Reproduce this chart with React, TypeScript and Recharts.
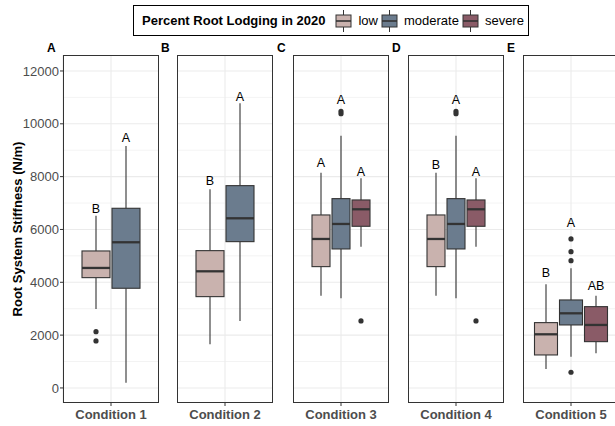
import React from 'react';
import { BarChart, Bar, XAxis, YAxis, CartesianGrid } from 'recharts';

// Facets (one chart per condition)
const conditions = ['Condition 1', 'Condition 2', 'Condition 3', 'Condition 4', 'Condition 5'];
const panelTags = ['A', 'B', 'C', 'D', 'E'];
const levels = ['low', 'moderate', 'severe'];
const levelColors: Record<string, string> = { low: '#c9b2ae', moderate: '#6b7c8e', severe: '#8a5b67' };

// Box stats per condition: [lower whisker, q1, median, q3, upper whisker]
const lowBoxes = [
  [2990, 4176, 4543, 5186, 6522],
  [1653, 3457, 4416, 5198, 7521],
  [3495, 4593, 5640, 6549, 8151],
  [3495, 4593, 5640, 6549, 8151],
  [719, 1249, 2031, 2473, 3924],
];
const moderateBoxes = [
  [201, 3774, 5515, 6802, 9161],
  [2536, 5539, 6423, 7659, 10777],
  [3394, 5262, 6208, 7167, 9552],
  [3394, 5262, 6208, 7167, 9552],
  [1185, 2385, 2826, 3331, 4530],
];
const severeBoxes = [
  null,
  null,
  [5349, 6120, 6764, 7117, 7940],
  [5349, 6120, 6764, 7117, 7940],
  [1313, 1753, 2385, 3078, 3494],
];

const lowOutliers = [[2131, 1779], [], [], [], []];
const moderateOutliers = [[], [], [10380, 10470], [10380, 10470], [5640, 5160, 4819, 594]];
const severeOutliers = [[], [], [2536], [2536], []];

// Tukey group letters and the value they sit at
const lowLetters = ['B', 'B', 'A', 'B', 'B'];
const lowLetterY = [6776, 7847, 8500, 8450, 4342];
const moderateLetters = ['A', 'A', 'A', 'A', 'A'];
const moderateLetterY = [9475, 11004, 10900, 10900, 6257];
const severeLetters = [null, null, 'A', 'A', 'AB'];
const severeLetterY = [null, null, 8188, 8188, 3861];

const yTicks = [0, 2000, 4000, 6000, 8000, 10000, 12000];
const yMinor = [1000, 3000, 5000, 7000, 9000, 11000];
const yDomain = [-570, 12605];

const boxes: Record<string, (number[] | null)[]> = { low: lowBoxes, moderate: moderateBoxes, severe: severeBoxes };
const outliers: Record<string, number[][]> = { low: lowOutliers, moderate: moderateOutliers, severe: severeOutliers };
const letters: Record<string, (string | null)[]> = { low: lowLetters, moderate: moderateLetters, severe: severeLetters };
const letterY: Record<string, (number | null)[]> = { low: lowLetterY, moderate: moderateLetterY, severe: severeLetterY };

const FONT = '"Liberation Sans", Arial, Helvetica, sans-serif';
const INK = '#333333';

const PANEL_LEFT = [63, 177, 293, 408, 523];
const PANEL_W = 96;
const PANEL_TOP = 55;
const PANEL_H = 348;
const XAXIS_H = 24;
const YAXIS_W = 63;

function buildRow(i: number) {
  const row: any = { cond: conditions[i] };
  levels.forEach((lv) => {
    const b = boxes[lv][i];
    if (!b) return;
    row[lv + 'Range'] = [b[1], b[3]];
    row[lv] = { box: b, outliers: outliers[lv][i], letter: letters[lv][i], letterY: letterY[lv][i] };
  });
  return row;
}

const BoxShape = (props: any) => {
  const { x, y, width, height, payload, level } = props;
  const s = payload && payload[level];
  if (!s) return null;
  const [lo, q1, med, q3, hi] = s.box;
  const top = Math.min(y, y + height);
  const h = Math.abs(height);
  const k = h / (q3 - q1);
  const py = (v: number) => top + (q3 - v) * k;
  const cx = x + width / 2;
  return (
    <g>
      <line x1={cx} x2={cx} y1={py(hi)} y2={top} stroke={INK} strokeWidth={1.1} />
      <line x1={cx} x2={cx} y1={top + h} y2={py(lo)} stroke={INK} strokeWidth={1.1} />
      <rect x={x} y={top} width={width} height={h} fill={levelColors[level]} stroke={INK} strokeWidth={1.1} />
      <line x1={x} x2={x + width} y1={py(med)} y2={py(med)} stroke={INK} strokeWidth={2.3} />
      {s.outliers.map((v: number, j: number) => (
        <circle key={j} cx={cx} cy={py(v)} r={2.6} fill={INK} />
      ))}
      {s.letter && (
        <text x={cx} y={py(s.letterY)} textAnchor="middle" dominantBaseline="central" fontSize={12.5} fontFamily={FONT} fill="#000">
          {s.letter}
        </text>
      )}
    </g>
  );
};

function Panel({ index }: { index: number }) {
  const row = buildRow(index);
  const present = levels.filter((lv) => row[lv]);
  const first = index === 0;
  const width = PANEL_W + (first ? YAXIS_W : 0);
  return (
    <div style={{ position: 'absolute', left: PANEL_LEFT[index] - (first ? YAXIS_W : 0), top: PANEL_TOP }}>
      <BarChart
        width={width}
        height={PANEL_H + XAXIS_H}
        data={[row]}
        margin={{ top: 0, right: 0, bottom: 0, left: 0 }}
        barCategoryGap={index === 4 ? 11.5 : 19}
        barGap={2}
      >
        <CartesianGrid horizontalValues={yMinor} vertical={false} stroke="#ebebeb" strokeWidth={0.6} />
        <CartesianGrid horizontalValues={yTicks} stroke="#ebebeb" strokeWidth={1.1} />
        <XAxis
          dataKey="cond"
          height={XAXIS_H}
          axisLine={false}
          tickSize={3}
          tickMargin={4}
          tickLine={{ stroke: INK }}
          tick={{ fill: '#4d4d4d', fontSize: 13, fontWeight: 'bold', fontFamily: FONT }}
          interval={0}
        />
        <YAxis
          type="number"
          domain={yDomain}
          allowDataOverflow
          ticks={yTicks}
          hide={!first}
          width={YAXIS_W}
          axisLine={false}
          tickSize={3}
          tickMargin={1}
          tickLine={{ stroke: INK }}
          tick={{ fill: '#4d4d4d', fontSize: 13, fontFamily: FONT }}
        />
        {present.map((lv) => (
          <Bar
            key={lv}
            dataKey={lv + 'Range'}
            isAnimationActive={false}
            shape={(p: any) => <BoxShape {...p} level={lv} />}
          />
        ))}
      </BarChart>
      <div
        style={{
          position: 'absolute',
          left: first ? YAXIS_W : 0,
          top: 0,
          width: PANEL_W,
          height: PANEL_H,
          border: `1.1px solid ${INK}`,
          boxSizing: 'border-box',
          pointerEvents: 'none',
        }}
      />
    </div>
  );
}

const LegendKey = ({ color }: { color: string }) => (
  <svg width={17} height={22} style={{ flexShrink: 0 }}>
    <line x1={8.5} x2={8.5} y1={0} y2={22} stroke={INK} strokeWidth={1} />
    <rect x={1} y={5} width={15} height={12} fill={color} stroke={INK} strokeWidth={1} />
    <line x1={1} x2={16} y1={11} y2={11} stroke={INK} strokeWidth={1.6} />
  </svg>
);

export default function App() {
  return (
    <div
      style={{
        position: 'absolute',
        left: 0,
        top: 0,
        width: 615,
        height: 426,
        overflow: 'hidden',
        background: '#fff',
        fontFamily: FONT,
      }}
    >
      <div
        style={{
          position: 'absolute',
          left: 133,
          top: 5,
          width: 396,
          height: 31,
          border: '1.1px solid #000',
          boxSizing: 'border-box',
          display: 'flex',
          alignItems: 'center',
          paddingLeft: 8,
          fontSize: 13,
          color: '#000',
          whiteSpace: 'nowrap',
        }}
      >
        <span style={{ fontWeight: 'bold', marginRight: 10, flexShrink: 0 }}>Percent Root Lodging in 2020</span>
        {levels.map((lv) => (
          <span key={lv} style={{ display: 'flex', alignItems: 'center', flexShrink: 0 }}>
            <LegendKey color={levelColors[lv]} />
            <span style={{ marginLeft: 6, marginRight: 3 }}>{lv}</span>
          </span>
        ))}
      </div>

      {conditions.map((c, i) => (
        <Panel key={c} index={i} />
      ))}

      <svg width={615} height={426} style={{ position: 'absolute', left: 0, top: 0, pointerEvents: 'none' }}>
        <text
          transform={`translate(22, ${PANEL_TOP + PANEL_H / 2}) rotate(-90)`}
          textAnchor="middle"
          fontSize={13}
          fontWeight="bold"
          fontFamily={FONT}
          fill="#000"
        >
          Root System Stiffness (N/m)
        </text>
        {panelTags.map((t, i) => (
          <text key={t} x={PANEL_LEFT[i] - 16} y={51.5} fontSize={12} fontWeight="bold" fontFamily={FONT} fill="#000">
            {t}
          </text>
        ))}
      </svg>
    </div>
  );
}
